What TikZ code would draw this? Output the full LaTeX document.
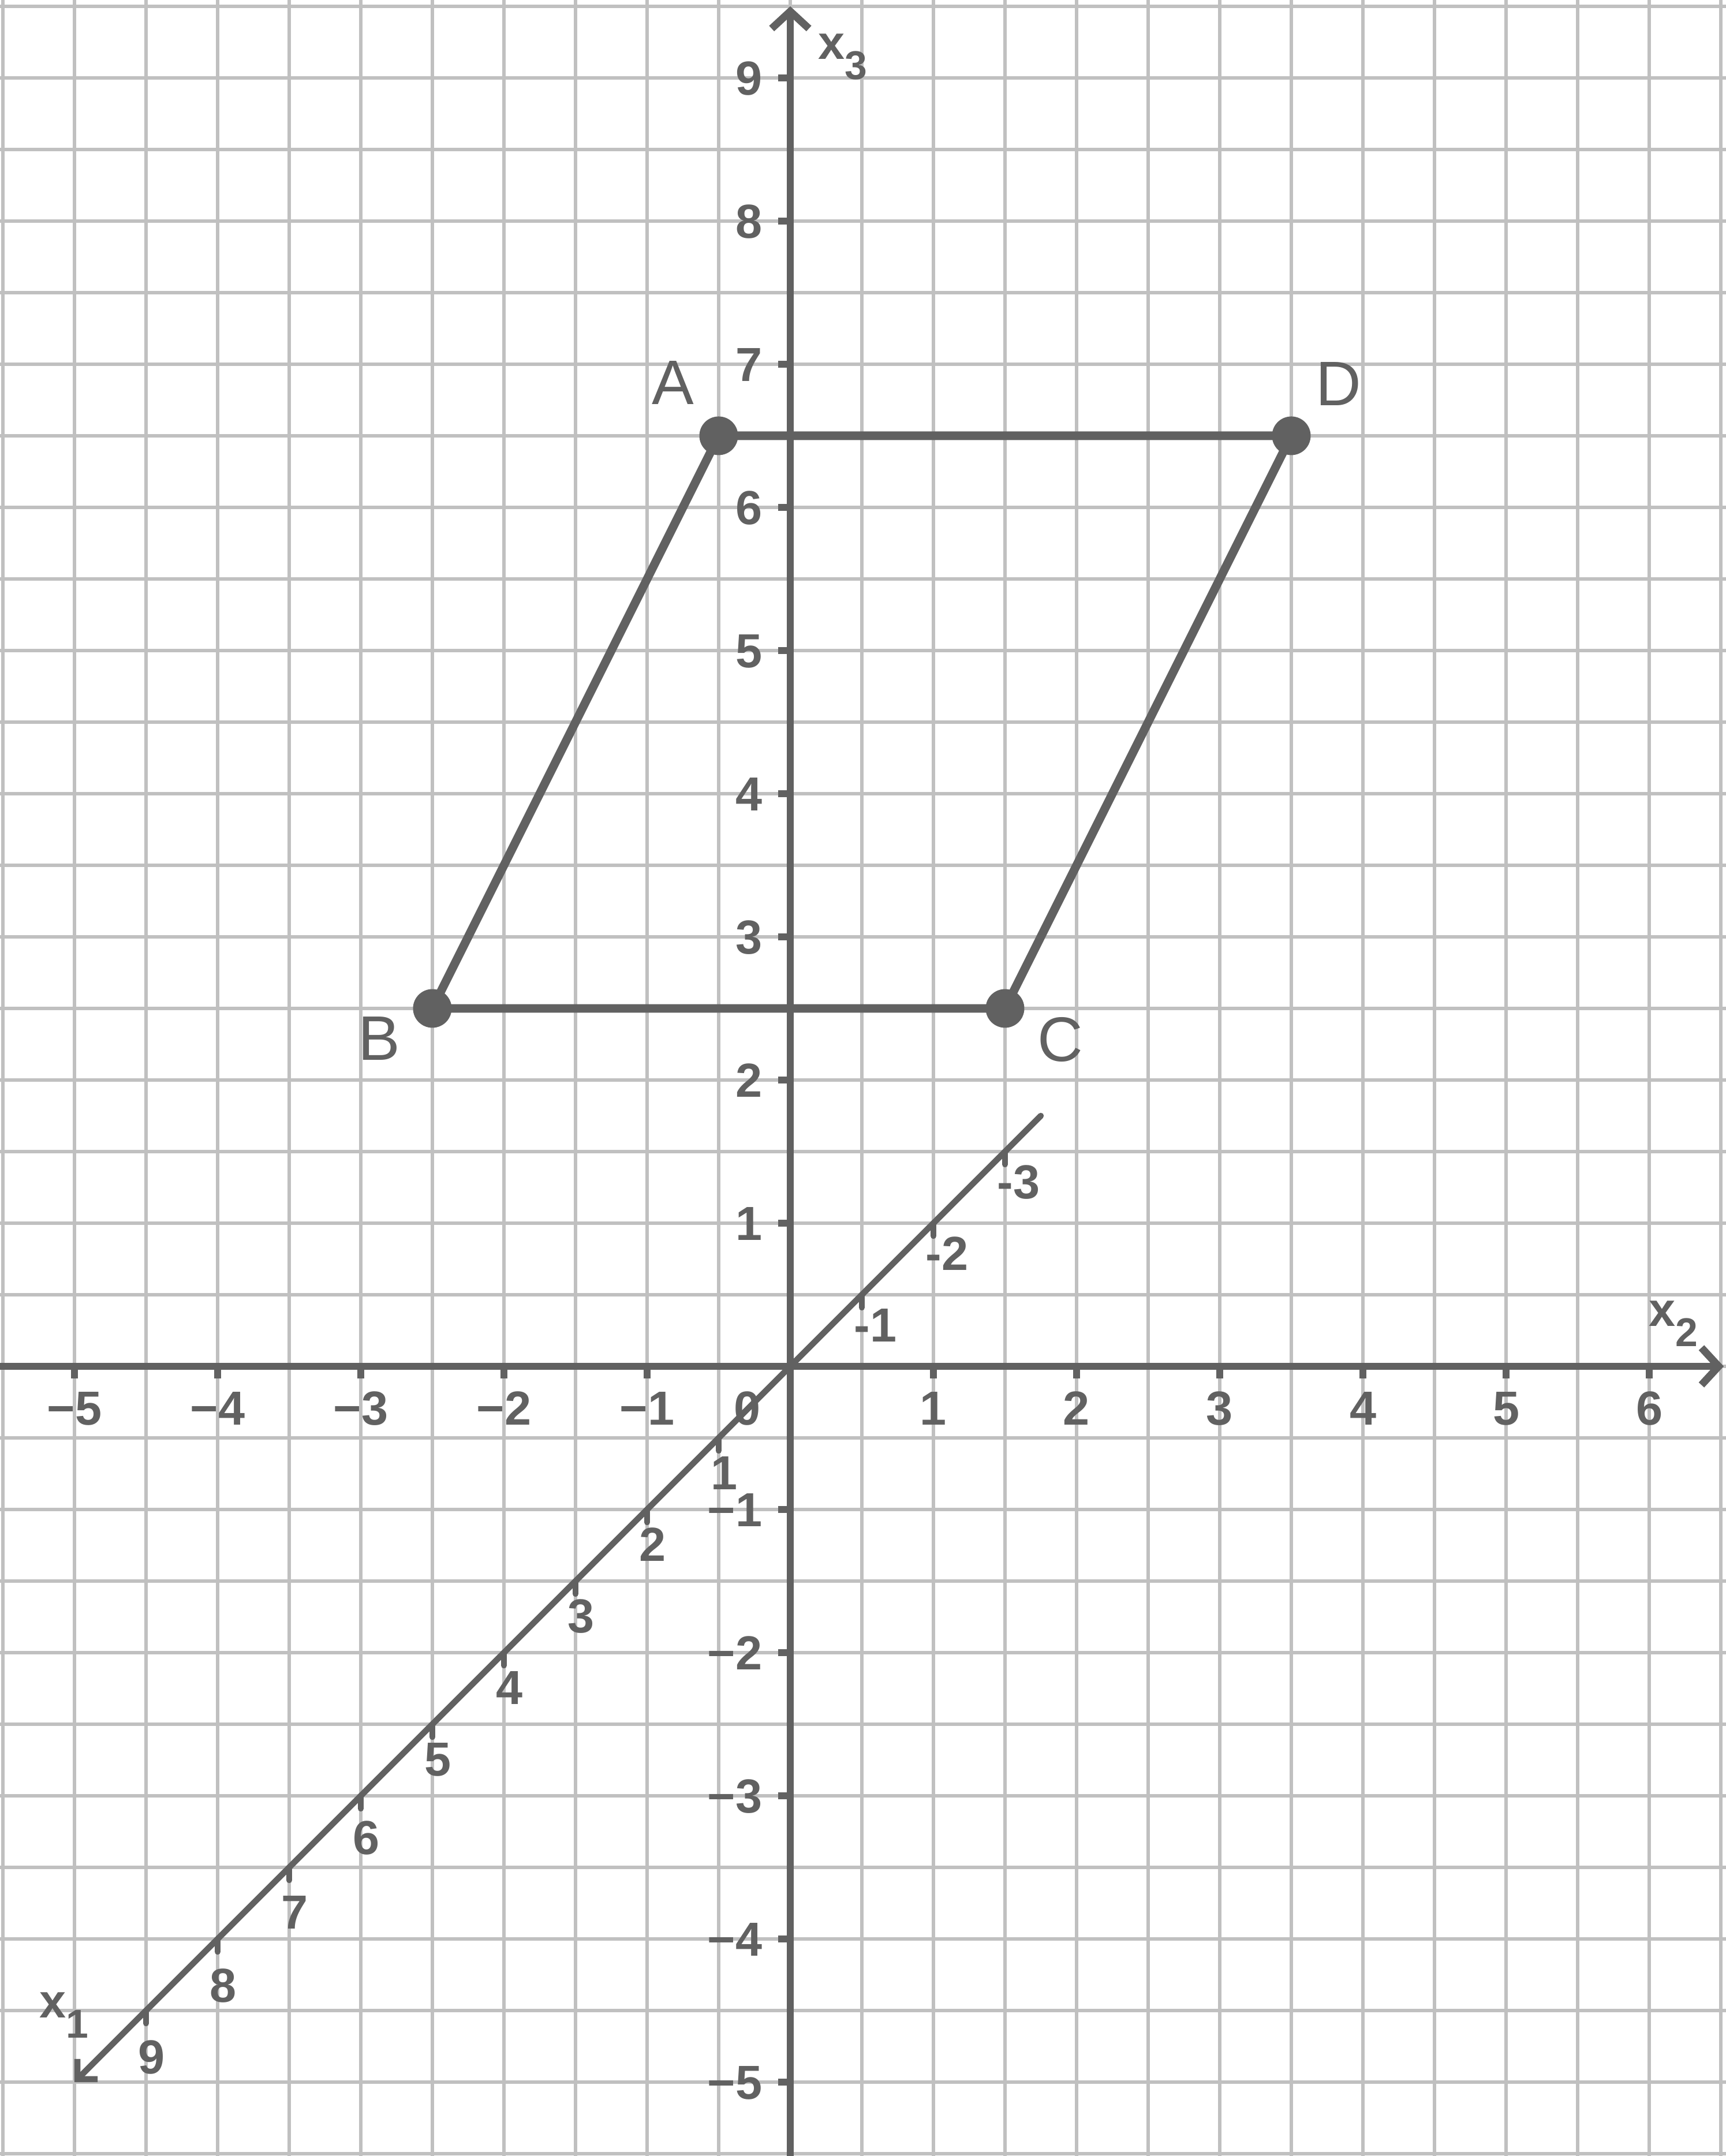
\documentclass[tikz,border=0pt]{standalone}
\usepackage{fontspec}
\setmainfont{Liberation Sans}
\usepackage{xcolor}
\usetikzlibrary{arrows.meta}

\definecolor{axisgray}{HTML}{616161}
\definecolor{gridgray}{HTML}{C0C0C0}

\tikzset{
	axis/.style = {axisgray, line width = 0.052cm},
	obliqueaxis/.style = {axisgray, line width = 0.042cm, line cap = round},
	tickmark/.style = {axisgray, line width = 0.046cm},
	obliquetick/.style = {axisgray, line width = 0.04cm, line cap = round},
	ticklabel/.style = {axisgray, inner sep = 0pt, font = \fontsize{9.5}{11}\selectfont\bfseries},
	pointlabel/.style = {axisgray, inner sep = 0pt, font = \fontsize{12.5}{15}\selectfont},
	edge/.style = {axisgray, line width = 0.06cm, line join = round},
}

\begin{document}
\begin{tikzpicture}
	%definition of origin
	\coordinate (O) at (0,0);
	
	%definition of minimum and maximum values of the drawing
	\def\xMIN{-5.52};
	\def\yMIN{-5.516};
	\def\xMAX{6.536};
	\def\yMAX{9.544};
	
	\useasboundingbox (\xMIN,\yMIN) rectangle (\xMAX,\yMAX);
	\fill [white] (\xMIN,\yMIN) rectangle (\xMAX,\yMAX);
	
	%grid
	\draw [gridgray, line width = 0.022cm, step = 0.5] (\xMIN,\yMIN) grid (\xMAX,\yMAX);
	
	%axes
	\coordinate (x2start) at (\xMIN,0);
	\coordinate (x2tip) at (6.52,0);
	\coordinate (x3start) at (0,\yMIN);
	\coordinate (x3tip) at (0,9.5);
	\coordinate (x1start) at (1.75,1.75);
	\coordinate (x1tip) at (-5,-5);
	
	\draw [axis, -{Straight Barb[length = 0.12cm, width = 0.26cm]}] (x2start) -- (x2tip);
	\draw [axis, -{Straight Barb[length = 0.12cm, width = 0.26cm]}] (x3start) -- (x3tip);
	\draw [obliqueaxis, -{Straight Barb[length = 0.1cm, width = 0.2cm]}] (x1start) -- (x1tip);
	
	\node [ticklabel, anchor = base west] (x2label) at (5.99,0.28) {x\raisebox{-0.14cm}{\fontsize{8}{9}\selectfont 2}};
	\node [ticklabel, anchor = base west] (x3label) at (0.19,9.13) {x\raisebox{-0.14cm}{\fontsize{8}{9}\selectfont 3}};
	\node [ticklabel, anchor = base west] (x1label) at (-5.25,-4.55) {x\raisebox{-0.14cm}{\fontsize{8}{9}\selectfont 1}};
	
	%ticks on x2
	\foreach \i in {1,...,6} {
		\draw [tickmark] (\i,0) -- ++(0,-0.085);
		\node [ticklabel, anchor = base] (x2pos\i) at (\i,-0.41) {\i};
	}
	\foreach \i in {1,...,5} {
		\draw [tickmark] (-\i,0) -- ++(0,-0.085);
		\node [ticklabel, anchor = base] (x2neg\i) at (-\i,-0.41) {−\i};
	}
	\node [ticklabel, anchor = base east] (zero) at (-0.2,-0.41) {0};
	
	%ticks on x3
	\foreach \i in {1,...,9} {
		\draw [tickmark] (0,\i) -- ++(-0.085,0);
		\node [ticklabel, anchor = base east] (x3pos\i) at (-0.19,\i-0.12) {\i};
	}
	\foreach \i in {1,...,5} {
		\draw [tickmark] (0,-\i) -- ++(-0.085,0);
		\node [ticklabel, anchor = base east] (x3neg\i) at (-0.19,-\i-0.12) {−\i};
	}
	
	%ticks on x1
	\foreach \n/\dy in {1/0.36, 2/0.36, 3/0.36, 4/0.36, 5/0.36, 6/0.41, 7/0.43, 8/0.44, 9/0.44} {
		\draw [obliquetick] ({-\n/2},{-\n/2}) -- ++(0,-0.09);
		\node [ticklabel, anchor = base west] (x1pos\n) at ({-\n/2-0.06},{-\n/2-\dy}) {\n};
	}
	\foreach \n in {1,2,3} {
		\draw [obliquetick] ({\n/2},{\n/2}) -- ++(0,-0.09);
		\node [ticklabel, anchor = base west] (x1neg\n) at ({\n/2-0.06},{\n/2-0.33}) {-\n};
	}
	
	%parallelogram
	\coordinate (A) at (-0.5,6.5);
	\coordinate (B) at (-2.5,2.5);
	\coordinate (C) at (1.5,2.5);
	\coordinate (D) at (3.5,6.5);
	
	\draw [edge] (A) -- (D) -- (C) -- (B) -- cycle;
	
	\fill [axisgray] (A) circle [radius = 0.135];
	\fill [axisgray] (B) circle [radius = 0.135];
	\fill [axisgray] (C) circle [radius = 0.135];
	\fill [axisgray] (D) circle [radius = 0.135];
	
	\node [pointlabel, anchor = base] (Alabel) at (-0.82,6.72) {A};
	\node [pointlabel, anchor = base] (Blabel) at (-2.87,2.14) {B};
	\node [pointlabel, anchor = base] (Clabel) at (1.885,2.13) {C};
	\node [pointlabel, anchor = base] (Dlabel) at (3.83,6.71) {D};
\end{tikzpicture}
\end{document}
